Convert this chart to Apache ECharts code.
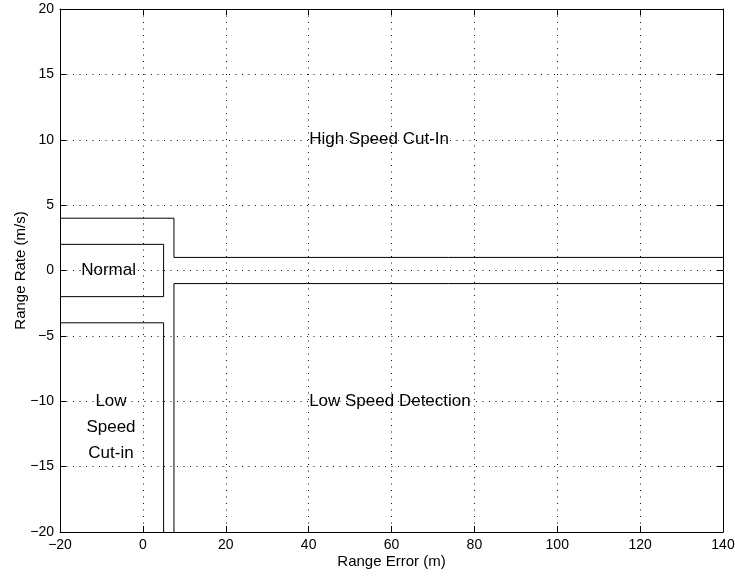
<!DOCTYPE html>
<html>
<head>
<meta charset="utf-8">
<script src="https://cdn.jsdelivr.net/npm/echarts@6/dist/echarts.min.js"></script>
<style>
  html, body { margin: 0; padding: 0; background: #fff; }
  #chart { width: 735px; height: 576px; }
</style>
</head>
<body>
<div id="chart"></div>
<script>
// region boundaries (range error, range rate)
var highCutInEdge = [[-20, 4], [7.5, 4], [7.5, 1], [140, 1]];
var normalBox = [[-20, 2], [5, 2], [5, -2], [-20, -2]];
var lowCutInEdge = [[-20, -4], [5, -4], [5, -20]];
var lowDetectEdge = [[7.5, -20], [7.5, -1], [140, -1]];

// region names, anchored at data coords
var leftLabels = [
  { name: 'High Speed Cut-In', value: [40, 10] },
  { name: 'Normal', value: [-15, 0] },
  { name: 'Low Speed Detection', value: [40, -10] }
];
var centerLabels = [
  { name: 'Low\nSpeed\nCut-in', value: [-7.7, -12] }
];

var xRange = [-20, 140], xStep = 20;
var yRange = [-20, 20], yStep = 5;

var FONT = '"Liberation Sans", Arial, Helvetica, sans-serif';

function minus(v) { return String(v).replace('-', '\u2212'); }

function boxAxis(range, step, pos, main) {
  return {
    type: 'value',
    position: pos,
    min: range[0], max: range[1], interval: step,
    axisLine: { show: true, onZero: false, lineStyle: { color: '#000', width: 1 } },
    axisTick: { show: true, inside: true, length: 6, lineStyle: { color: '#000' } },
    axisLabel: {
      show: main, color: '#000', fontSize: 14, fontFamily: FONT,
      margin: 6, formatter: minus, showMinLabel: true, showMaxLabel: true
    },
    splitLine: {
      show: main,
      lineStyle: { color: '#111', width: 1, type: [1, 5.5] }
    }
  };
}

var xMain = boxAxis(xRange, xStep, 'bottom', true);
xMain.name = 'Range Error (m)';
xMain.nameLocation = 'middle';
xMain.nameGap = 22;
xMain.nameMoveOverlap = false;
xMain.nameTextStyle = { color: '#000', fontSize: 15, fontFamily: FONT };

var yMain = boxAxis(yRange, yStep, 'left', true);
yMain.name = 'Range Rate (m/s)';
yMain.nameLocation = 'middle';
yMain.nameGap = 32;
yMain.nameMoveOverlap = false;
yMain.nameTextStyle = { color: '#000', fontSize: 15, fontFamily: FONT };

function edge(data) {
  return {
    type: 'line', data: data, showSymbol: false, symbol: 'none',
    lineStyle: { color: '#000', width: 1 }, silent: true
  };
}

var labelStyle = {
  show: true, formatter: '{b}', color: '#000', opacity: 1, fontSize: 17,
  fontFamily: FONT, textBorderWidth: 0
};

var chart = echarts.init(document.getElementById('chart'));
chart.setOption({
  animation: false,
  backgroundColor: '#fff',
  grid: { left: 60, right: 12, top: 9, bottom: 44, containLabel: false, outerBoundsMode: 'none' },
  xAxis: [xMain, boxAxis(xRange, xStep, 'top', false)],
  yAxis: [yMain, boxAxis(yRange, yStep, 'right', false)],
  series: [
    edge(highCutInEdge),
    edge(normalBox),
    edge(lowCutInEdge),
    edge(lowDetectEdge),
    {
      type: 'scatter', data: leftLabels, symbolSize: 1, silent: true,
      itemStyle: { color: 'rgba(0,0,0,0)' },
      label: Object.assign({ position: 'right', distance: 0 }, labelStyle)
    },
    {
      type: 'scatter', data: centerLabels, symbolSize: 1, silent: true,
      itemStyle: { color: 'rgba(0,0,0,0)' },
      label: Object.assign({ position: 'inside', align: 'center', lineHeight: 26 }, labelStyle)
    }
  ]
});
</script>
</body>
</html>
